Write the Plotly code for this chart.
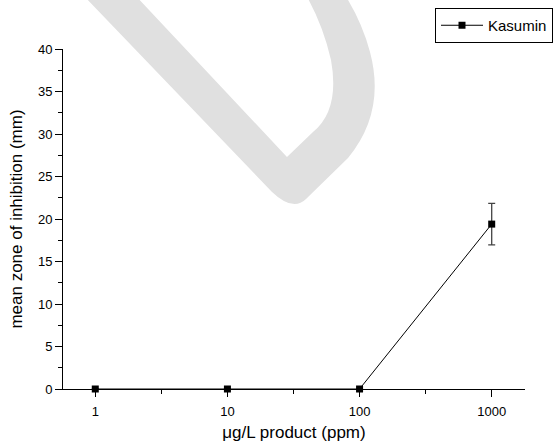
import plotly.graph_objects as go

# ---- data ----
concentration = [1, 10, 100, 1000]          # µg/L product (ppm)
zone_mean = [0, 0, 0, 19.4]                 # mean zone of inhibition (mm)
zone_err = [0, 0, 0, 2.45]
series_name = "Kasumin"
x_tickvals = [1, 10, 100, 1000]
x_ticktext = ["1", "10", "100", "1000"]
x_minor = [3.162, 31.62, 316.2]
y_tickvals = [0, 5, 10, 15, 20, 25, 30, 35, 40]

W, H = 554, 442
L, R, T, B = 63, 29, 49, 53
pw, ph = W - L - R, H - T - B

def px(x):
    return (x - L) / pw

def py(y):
    return (H - B - y) / ph

# faint watermark stroke (decoration), pixel outline with smooth curves
def P(a, b):
    return f"{px(a):.4f},{py(b):.4f}"

path = (
    "M " + P(83, -5) + " L " + P(272, 192)
    + " Q " + P(293, 212) + " " + P(306, 199)
    + " L " + P(348, 158)
    + " Q " + P(386, 112) + " " + P(370, 52)
    + " Q " + P(362, 22) + " " + P(345, -5)
    + " L " + P(306, -5)
    + " Q " + P(323, 25) + " " + P(331, 60)
    + " Q " + P(340, 110) + " " + P(313, 132)
    + " L " + P(287, 157)
    + " L " + P(135, -5) + " Z"
)

fig = go.Figure()
fig.add_trace(go.Scatter(
    x=concentration, y=zone_mean, name=series_name,
    mode="lines+markers",
    line=dict(color="black", width=1),
    marker=dict(symbol="square", size=7, color="black"),
    error_y=dict(type="data", array=zone_err, visible=True,
                 color="#444444", thickness=1.3, width=3.5),
    cliponaxis=False,
))

fig.add_shape(type="path", path=path, xref="paper", yref="paper",
              fillcolor="#e0e0e0", line=dict(width=0), layer="below")

font = "Arial, Liberation Sans, sans-serif"
fig.update_layout(
    width=W, height=H,
    margin=dict(l=L, r=R, t=T, b=B, pad=0, autoexpand=False),
    paper_bgcolor="white", plot_bgcolor="rgba(0,0,0,0)",
    font=dict(family=font, size=13, color="black"),
    showlegend=True,
    legend=dict(x=px(435), y=py(8), xanchor="left", yanchor="top",
                bordercolor="black", borderwidth=1, bgcolor="white",
                font=dict(size=15, family=font), itemwidth=42,
                tracegroupgap=0),
    xaxis=dict(
        type="log", range=[-0.2443, 3.252],
        tickvals=x_tickvals, ticktext=x_ticktext,
        showgrid=False, zeroline=False, automargin=False,
        showline=True, linecolor="black", linewidth=1,
        ticks="outside", ticklen=7, tickwidth=1, tickcolor="black",
        ticklabelstandoff=3,
        minor=dict(tickvals=x_minor, ticks="outside", ticklen=4,
                   tickwidth=1, tickcolor="black", showgrid=False),
        tickfont=dict(size=13),
        title=dict(text="μg/L product (ppm)", font=dict(size=17), standoff=12),
    ),
    yaxis=dict(
        range=[0, 40], tickvals=y_tickvals,
        showgrid=False, zeroline=False, automargin=False,
        showline=True, linecolor="black", linewidth=1,
        ticks="outside", ticklen=7, tickwidth=1, tickcolor="black",
        minor=dict(dtick=2.5, ticks="outside", ticklen=4,
                   tickwidth=1, tickcolor="black", showgrid=False),
        tickfont=dict(size=13),
        title=dict(text="mean zone of inhibition (mm)", font=dict(size=17),
                   standoff=10),
    ),
)

fig.write_html("out.html")
